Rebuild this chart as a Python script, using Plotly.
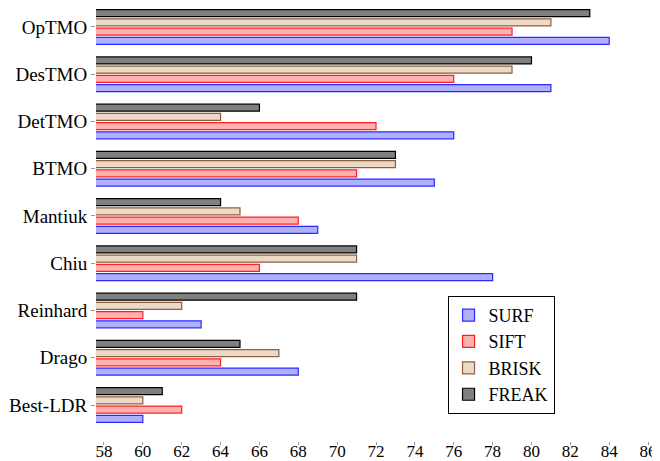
import plotly.graph_objects as go

categories = ["Best-LDR", "Drago", "Reinhard", "Chiu", "Mantiuk", "BTMO", "DetTMO", "DesTMO", "OpTMO"]
surf = [60, 68, 63, 78, 69, 75, 76, 81, 84]
sift = [62, 64, 60, 66, 68, 71, 72, 76, 79]
brisk = [60, 67, 62, 71, 65, 73, 64, 79, 81]
freak = [61, 65, 71, 71, 64, 73, 66, 80, 83]
x_ticks = list(range(58, 87, 2))

series = [
    ("SURF", surf, "#b0b0ff", "#2a2aff"),
    ("SIFT", sift, "#ffb0b0", "#ff2020"),
    ("BRISK", brisk, "#ecd9c6", "#8c6040"),
    ("FREAK", freak, "#808080", "#000000"),
]

fig = go.Figure()
for name, vals, fill, line in series:
    fig.add_trace(go.Bar(
        y=categories, x=vals, name=name, orientation="h",
        marker=dict(color=fill, line=dict(color=line, width=1.2)),
    ))

font = "Liberation Serif, Times New Roman, Times, serif"
fig.update_layout(
    width=652, height=453,
    margin=dict(l=88, r=3, t=0, b=20, autoexpand=False),
    paper_bgcolor="white", plot_bgcolor="white",
    barmode="group", bargap=0.22, bargroupgap=0.24,
    font=dict(family=font, size=17, color="black"),
    showlegend=True,
    legend=dict(
        x=0.722, y=0.199, xanchor="center", yanchor="middle",
        bordercolor="black", borderwidth=1, bgcolor="white",
        font=dict(family=font, size=18), traceorder="normal",
        itemwidth=30, tracegroupgap=0,
    ),
    xaxis=dict(
        range=[57.59, 86.46], tickvals=x_ticks, showgrid=False, zeroline=False,
        showline=False, ticks="outside", ticklen=3, tickcolor="#999999",
        tickfont=dict(size=17, family=font), automargin=False,
        ticklabelstandoff=-8,
    ),
    yaxis=dict(
        categoryorder="array", categoryarray=categories,
        range=[-0.762, 8.402], showgrid=False, zeroline=False, showline=False,
        ticks="outside", ticklen=4, tickcolor="#999999", mirror="ticks",
        tickfont=dict(size=19, family=font), automargin=False,
    ),
)

fig.write_html("out.html")
